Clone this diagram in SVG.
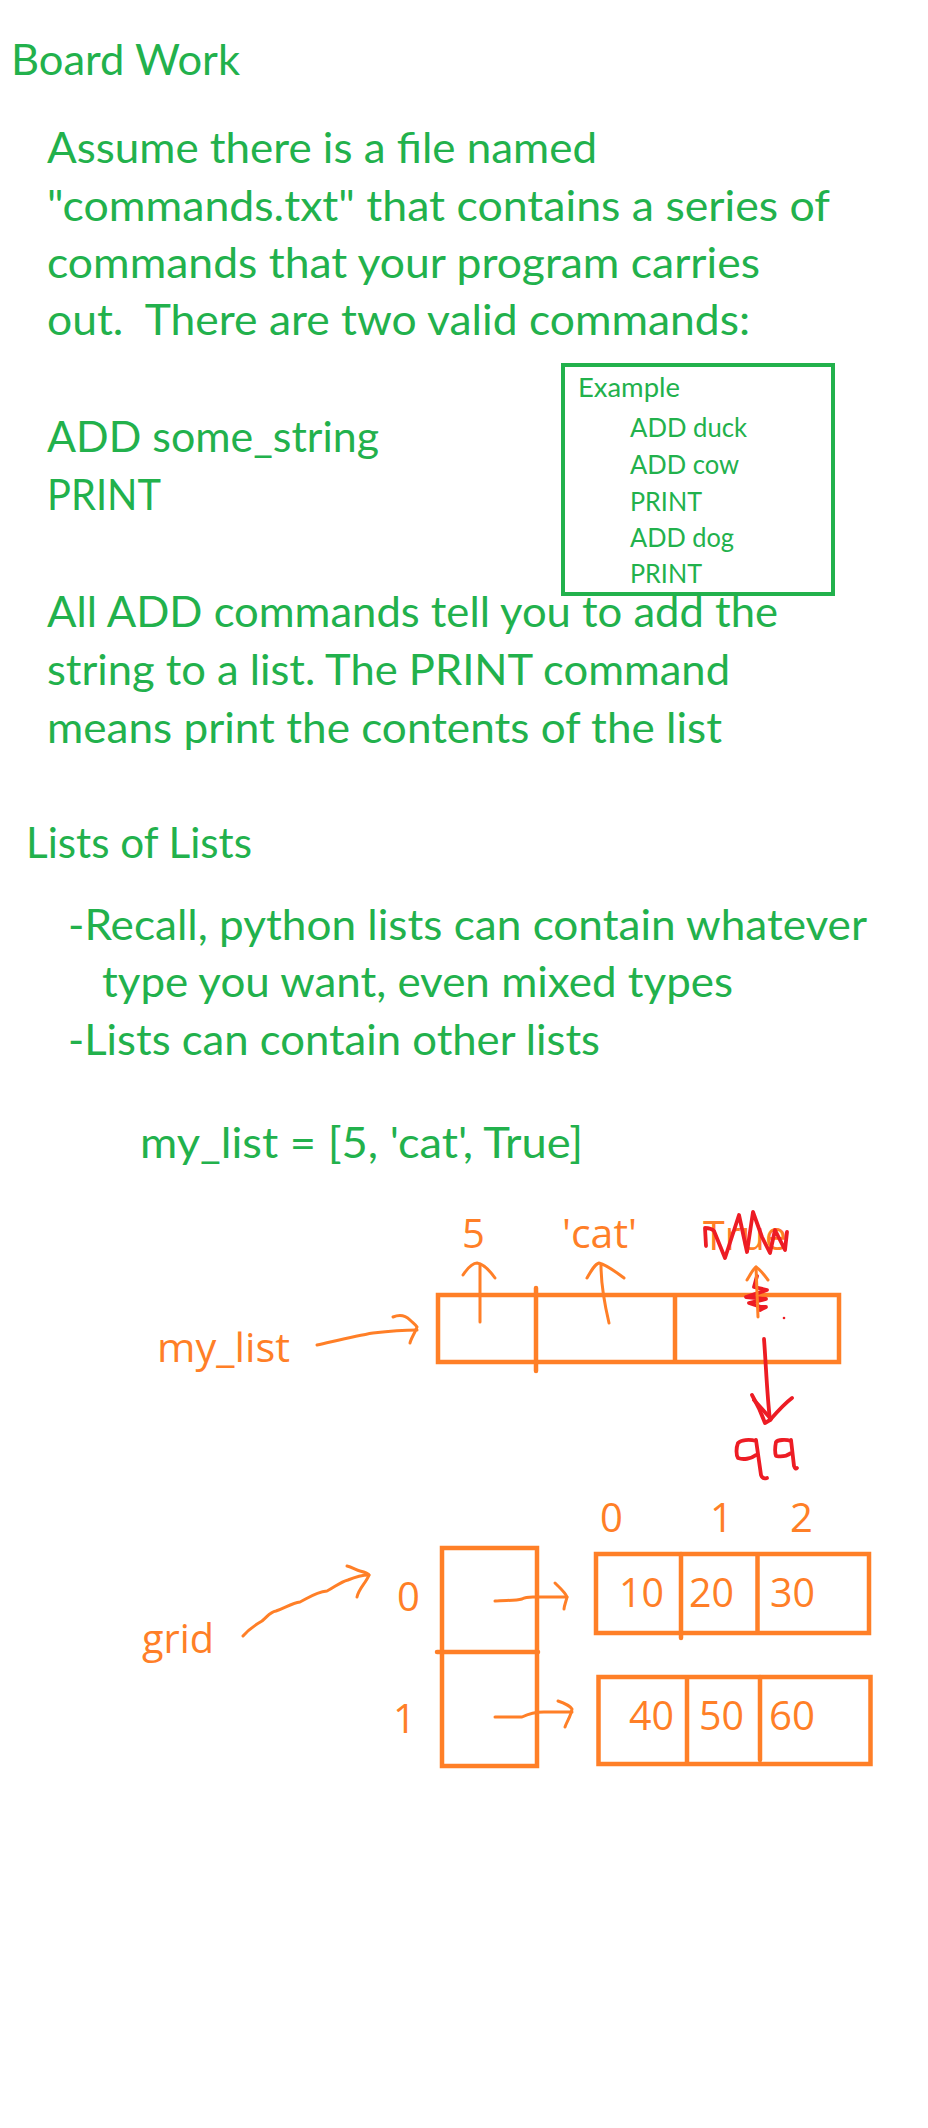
<svg xmlns="http://www.w3.org/2000/svg" width="928" height="2128" viewBox="0 0 928 2128">
  <style>
    .g { fill: #22B14C; font-family: Lato, "Open Sans", sans-serif; white-space: pre; }
    .big { font-size: 42px; }
    .sm { font-size: 26.5px; }
    .o { fill: #FF7F27; font-family: "Open Sans", "Noto Sans", sans-serif; font-size: 40px; }
    .box { fill: none; stroke: #FF7F27; stroke-width: 4.5; }
    .gbox { fill: none; stroke: #22B14C; stroke-width: 4; }
    .ink { fill: none; stroke: #FF7F27; stroke-width: 3; stroke-linecap: round; stroke-linejoin: round; }
    .red { fill: none; stroke: #ED1C24; stroke-width: 3.8; stroke-linecap: round; stroke-linejoin: round; }
  </style>
  <rect width="928" height="2128" fill="#ffffff"/>

  <!-- page heading and problem statement -->
  <g id="heading">
    <text class="g big" x="11" y="75" textLength="229" lengthAdjust="spacingAndGlyphs">Board Work</text>
  </g>
  <g id="statement">
    <text class="g big" x="47" y="163" textLength="550" lengthAdjust="spacingAndGlyphs">Assume there is a file named</text>
    <text class="g big" x="47" y="221" textLength="783" lengthAdjust="spacingAndGlyphs">"commands.txt" that contains a series of</text>
    <text class="g big" x="47" y="278" textLength="713" lengthAdjust="spacingAndGlyphs">commands that your program carries</text>
    <text class="g big" x="47" y="335" textLength="703" lengthAdjust="spacingAndGlyphs">out.  There are two valid commands:</text>
    <text class="g big" x="47" y="452" textLength="332" lengthAdjust="spacingAndGlyphs">ADD some_string</text>
    <text class="g big" x="47" y="510" textLength="114" lengthAdjust="spacingAndGlyphs">PRINT</text>
    <text class="g big" x="47" y="627" textLength="731" lengthAdjust="spacingAndGlyphs">All ADD commands tell you to add the</text>
    <text class="g big" x="47" y="685" textLength="683" lengthAdjust="spacingAndGlyphs">string to a list. The PRINT command</text>
    <text class="g big" x="47" y="743" textLength="675" lengthAdjust="spacingAndGlyphs">means print the contents of the list</text>
  </g>

  <!-- example command file -->
  <g id="example">
    <rect class="gbox" x="563" y="365" width="270" height="229"/>
    <text class="g sm" x="578" y="397" textLength="102" lengthAdjust="spacingAndGlyphs">Example</text>
    <text class="g sm" x="630" y="437" textLength="117" lengthAdjust="spacingAndGlyphs">ADD duck</text>
    <text class="g sm" x="630" y="474" textLength="109" lengthAdjust="spacingAndGlyphs">ADD cow</text>
    <text class="g sm" x="630" y="511" textLength="72" lengthAdjust="spacingAndGlyphs">PRINT</text>
    <text class="g sm" x="630" y="547" textLength="104" lengthAdjust="spacingAndGlyphs">ADD dog</text>
    <text class="g sm" x="630" y="583" textLength="72" lengthAdjust="spacingAndGlyphs">PRINT</text>
  </g>

  <!-- lists of lists notes -->
  <g id="notes">
    <text class="g big" x="26" y="858" textLength="226" lengthAdjust="spacingAndGlyphs">Lists of Lists</text>
    <text class="g big" x="68" y="940" textLength="799" lengthAdjust="spacingAndGlyphs">-Recall, python lists can contain whatever</text>
    <text class="g big" x="102" y="997" textLength="631" lengthAdjust="spacingAndGlyphs">type you want, even mixed types</text>
    <text class="g big" x="68" y="1055" textLength="532" lengthAdjust="spacingAndGlyphs">-Lists can contain other lists</text>
    <text class="g big" x="140" y="1158" textLength="443" lengthAdjust="spacingAndGlyphs">my_list = [5, 'cat', True]</text>
  </g>

  <!-- my_list: three cells with their values above -->
  <g id="my_list">
    <text class="o" x="157" y="1362" textLength="133" lengthAdjust="spacingAndGlyphs">my_list</text>
    <rect class="box" x="438" y="1295" width="401" height="67"/>
    <line class="box" x1="536" y1="1288" x2="536" y2="1371" stroke-linecap="round"/>
    <line class="box" x1="675" y1="1295" x2="675" y2="1362"/>
    <text class="o" x="462" y="1248">5</text>
    <text class="o" x="562" y="1248" textLength="75" lengthAdjust="spacingAndGlyphs">'cat'</text>
    <text class="o" x="703" y="1250" textLength="84" lengthAdjust="spacingAndGlyphs">True</text>
  </g>

  <!-- replacement value written over True -->
  <g id="new_value">
    <path class="red" d="M706,1246 L705,1228 C708,1228 711,1228 714,1231 L725,1258 L739,1215 L747,1252 L753,1212 L762,1237 L770,1253 L775,1230 L785,1250 L787,1232"/>
    <path class="red" d="M757,1276 L754,1287 L767,1290 L746,1297 L766,1299 L749,1303 L761,1307 L766,1307 L760,1310"/>
    <circle cx="784" cy="1318" r="1.3" fill="#ED1C24"/>
    <path class="red" d="M756,1441 C749,1439 741,1440 738,1443 C736,1448 736,1455 738,1458 C743,1460 751,1459 756,1455 M756,1440 L761,1475 C762,1478 764,1479 767,1478"/>
    <path class="red" d="M791,1441 C785,1439 778,1440 776,1442 C775,1447 775,1453 776,1456 C781,1457 787,1456 791,1453 M791,1440 L794,1466 C795,1469 796,1469 797,1468"/>
  </g>

  <!-- grid: outer list of two rows -->
  <g id="grid">
    <text class="o" x="142" y="1653" textLength="72" lengthAdjust="spacingAndGlyphs">grid</text>
    <rect class="box" x="442" y="1548" width="95" height="218"/>
    <line class="box" x1="437" y1="1652" x2="538" y2="1652" stroke-linecap="round"/>
    <text class="o" x="397" y="1611">0</text>
    <text class="o" x="393" y="1733">1</text>
  </g>

  <g id="row0">
    <text class="o" x="600" y="1532">0</text>
    <text class="o" x="710" y="1532">1</text>
    <text class="o" x="790" y="1532">2</text>
    <rect class="box" x="596" y="1554" width="273" height="79"/>
    <line class="box" x1="681" y1="1554" x2="681" y2="1638" stroke-linecap="round"/>
    <line class="box" x1="757.5" y1="1554" x2="757.5" y2="1633"/>
    <text class="o" x="619" y="1607" textLength="45" lengthAdjust="spacingAndGlyphs">10</text>
    <text class="o" x="689" y="1607" textLength="45" lengthAdjust="spacingAndGlyphs">20</text>
    <text class="o" x="770" y="1607" textLength="45" lengthAdjust="spacingAndGlyphs">30</text>
  </g>

  <g id="row1">
    <rect class="box" x="598.5" y="1677" width="272" height="87"/>
    <line class="box" x1="687" y1="1677" x2="687" y2="1764"/>
    <line class="box" x1="760" y1="1677" x2="760" y2="1760" stroke-linecap="round"/>
    <text class="o" x="629" y="1730" textLength="45" lengthAdjust="spacingAndGlyphs">40</text>
    <text class="o" x="699" y="1730" textLength="45" lengthAdjust="spacingAndGlyphs">50</text>
    <text class="o" x="769" y="1730" textLength="46" lengthAdjust="spacingAndGlyphs">60</text>
  </g>

  <!-- hand-drawn reference arrows -->
  <g id="connectors">
    <!-- my_list name to its cells -->
    <path class="ink" d="M317,1345 C335,1341 355,1336 373,1333 C390,1331 405,1330 417,1330"/>
    <path class="ink" d="M393,1317 C400,1314 406,1316 410,1320 C413,1323 416,1325 417,1327 C415,1333 411,1338 410,1343"/>
    <!-- cells to their values -->
    <path class="ink" d="M480,1322 L480,1265"/>
    <path class="ink" d="M463,1275 C467,1269 472,1263 477,1263 C484,1264 490,1271 495,1278"/>
    <path class="ink" d="M609,1323 C605,1306 601,1285 601,1265"/>
    <path class="ink" d="M587,1278 C591,1271 595,1264 599,1263 C607,1265 616,1272 624,1278"/>
    <path class="ink" d="M758,1317 L756,1267"/>
    <path class="ink" d="M747,1280 C750,1275 753,1269 756,1267 C761,1270 765,1276 768,1280"/>
    <!-- third cell now points to 99 -->
    <path class="red" d="M764,1339 C766,1365 767,1395 770,1420"/>
    <path class="red" d="M752,1395 C756,1402 761,1412 765,1423 L770,1420 C777,1412 784,1404 792,1398"/>
    <path class="red" d="M754,1400 L771,1419"/>
    <!-- grid name to outer list -->
    <path class="ink" d="M243,1636 C250,1628 255,1625 262,1621 C268,1616 270,1612 276,1611 C285,1608 292,1603 300,1602 C308,1598 316,1592 327,1591 C335,1587 340,1582 348,1580 C355,1577 362,1575 369,1575"/>
    <path class="ink" d="M347,1566 C352,1567 356,1570 360,1571 C364,1572 368,1573 369,1575 C366,1583 359,1588 357,1597"/>
    <!-- outer list slots to inner rows -->
    <path class="ink" d="M495,1601 C505,1600 515,1601 522,1599 C527,1596 533,1597 538,1597 C548,1597 558,1597 567,1597"/>
    <path class="ink" d="M555,1583 C560,1588 565,1592 567,1597 C566,1602 564,1606 564,1609"/>
    <path class="ink" d="M495,1717 C505,1717 515,1717 522,1717 C530,1713 537,1712 544,1712 C553,1712 563,1712 572,1712"/>
    <path class="ink" d="M558,1701 C564,1703 570,1706 572,1709 C571,1716 567,1721 565,1727"/>
  </g>
</svg>
